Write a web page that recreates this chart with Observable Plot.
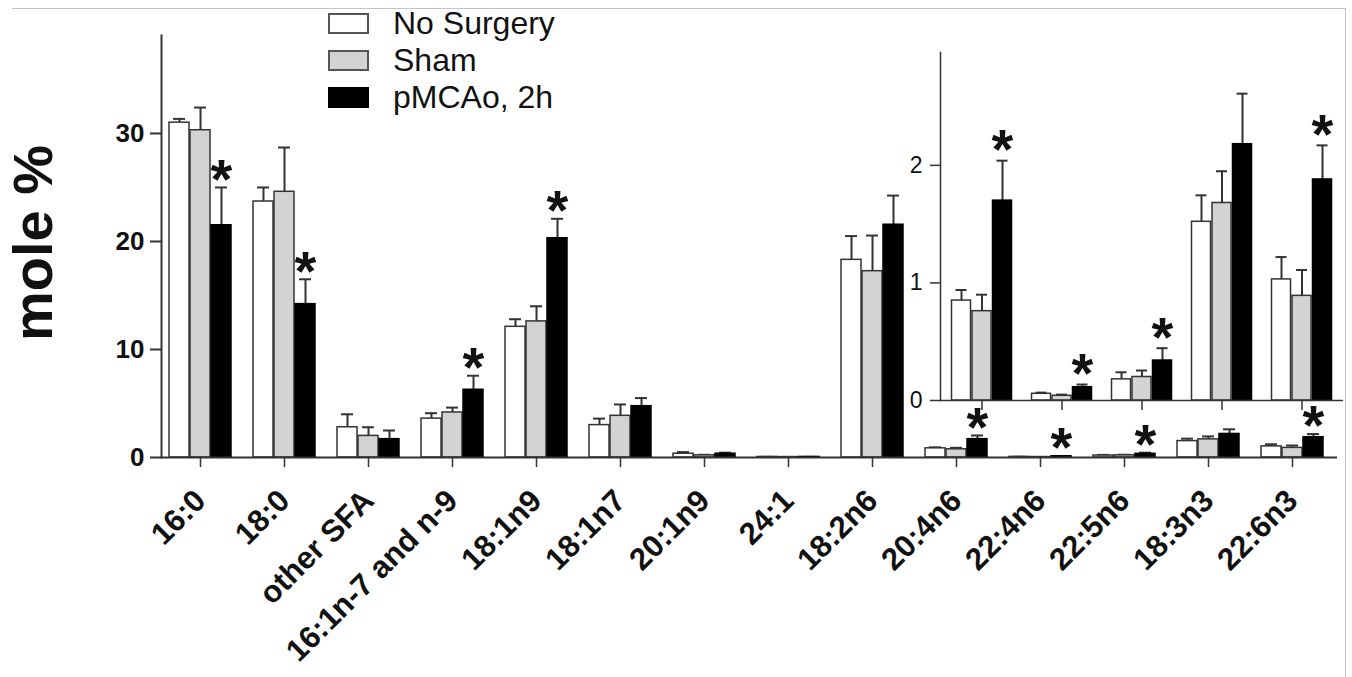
<!DOCTYPE html>
<html><head><meta charset="utf-8">
<script src="https://cdn.jsdelivr.net/npm/d3@7"></script>
<script src="https://cdn.jsdelivr.net/npm/@observablehq/plot@0.6"></script>
<style>
html,body{margin:0;padding:0;background:#fff;}
#wrap{position:relative;width:1352px;height:677px;overflow:hidden;font-family:"Liberation Sans",Arial,sans-serif;}
#wrap svg{position:absolute;left:0;top:0;}
.border{position:absolute;left:12px;top:8px;width:1333px;height:700px;border-top:1.5px solid #c4c4c4;border-right:1.5px solid #c4c4c4;}
#ylabel{position:absolute;left:32px;top:243px;transform:translate(-50%,-50%) rotate(-90deg);font-weight:bold;font-size:56px;white-space:nowrap;color:#111;}
#legend{position:absolute;left:328px;top:5px;}
.row{display:flex;align-items:center;height:37px;}
.sw{width:41px;height:21px;box-sizing:border-box;border:2px solid #555;}
.lt{margin-left:24px;font-size:32px;color:#111;white-space:nowrap;}
</style></head>
<body>
<div id="wrap">
  <div class="border"></div>
  <div id="ylabel">mole %</div>
  <div id="legend"></div>
</div>
<script>
// ---- data ----
const categories = ["16:0","18:0","other SFA","16:1n-7 and n-9","18:1n9","18:1n7","20:1n9","24:1","18:2n6","20:4n6","22:4n6","22:5n6","18:3n3","22:6n3"];
const insetCategories = ["20:4n6","22:4n6","22:5n6","18:3n3","22:6n3"];
const seriesNames = ["No Surgery","Sham","pMCAo, 2h"];
const noSurgery    = [31.0, 23.7, 2.8, 3.6, 12.1, 3.0, 0.35, 0.05, 18.3, 0.85, 0.057, 0.18, 1.52, 1.03];
const noSurgeryErr = [0.35, 1.3, 1.2, 0.5, 0.7, 0.6, 0.15, 0.01, 2.2, 0.09, 0.01, 0.06, 0.225, 0.19];
const sham         = [30.3, 24.6, 2.0, 4.17, 12.6, 3.86, 0.2, 0.04, 17.25, 0.76, 0.04, 0.2, 1.68, 0.89];
const shamErr      = [2.1, 4.1, 0.8, 0.45, 1.4, 1.05, 0.05, 0.01, 3.3, 0.14, 0.01, 0.055, 0.27, 0.22];
const pmcao        = [21.5, 14.2, 1.7, 6.27, 20.3, 4.75, 0.35, 0.05, 21.55, 1.70, 0.113, 0.34, 2.18, 1.88];
const pmcaoErr     = [3.5, 2.3, 0.8, 1.3, 1.8, 0.75, 0.1, 0.01, 2.7, 0.34, 0.023, 0.105, 0.43, 0.29];
const significant  = [true, true, false, true, true, false, false, false, false, true, true, true, false, true];
const mainTicks = [0, 10, 20, 30];
const insetTicks = [0, 1, 2];

// ---- styles ----
const fills = ["#ffffff", "#d3d3d3", "#000000"];
const edge = "#333";
const font = "Liberation Sans, Arial, sans-serif";

const groups = [
  {values: noSurgery, errors: noSurgeryErr},
  {values: sham, errors: shamErr},
  {values: pmcao, errors: pmcaoErr}
];

function rows(g, keep) {
  return categories.map((c, i) => ({cat: c, v: g.values[i], top: g.values[i] + g.errors[i], sig: significant[i]}))
    .filter(d => keep.includes(d.cat));
}

function barMarks(keep, offset, starDy, capInset) {
  const out = [];
  groups.forEach((g, gi) => {
    const data = rows(g, keep);
    const dx = (gi - 1) * offset;
    out.push(Plot.ruleX(data, {x: "cat", y1: "v", y2: "top", dx, stroke: edge, strokeWidth: 2}));
    out.push(Plot.tickY(data, {x: "cat", y: "top", dx, stroke: edge, strokeWidth: 2, insetLeft: capInset, insetRight: capInset}));
    out.push(Plot.barY(data, {x: "cat", y: "v", dx, fill: fills[gi], stroke: gi === 2 ? "#000" : edge, strokeWidth: 1.5}));
    if (gi === 2) {
      out.push(Plot.text(data.filter(d => d.sig), {x: "cat", y: "top", dx, dy: starDy, text: () => "*", fontSize: 56, fontWeight: "bold", fontFamily: font, fill: "#111"}));
    }
  });
  return out;
}

const mainPlot = Plot.plot({
  width: 1352, height: 677,
  marginLeft: 161, marginRight: 15, marginTop: 35, marginBottom: 220,
  style: {fontFamily: font, background: "transparent", color: "#111", overflow: "visible"},
  x: {domain: categories, range: [158, 1334], paddingInner: 0.762, paddingOuter: 0.381},
  y: {domain: [0, 39.07]},
  marks: [
    ...barMarks(categories, 21, -7.5, 4),
    Plot.frame({anchor: "left", stroke: edge, strokeWidth: 2}),
    Plot.ruleY([0], {stroke: edge, strokeWidth: 2}),
    Plot.axisY({ticks: mainTicks, tickSize: 11, tickPadding: 6, fontSize: 26, fontWeight: "bold", stroke: edge, strokeWidth: 2, label: null}),
    Plot.axisX({tickRotate: -45, tickSize: 10, tickPadding: 28, fontSize: 31, fontWeight: "bold", stroke: edge, strokeWidth: 1.5, label: null})
  ]
});

const insetPlot = Plot.plot({
  width: 1352, height: 677,
  marginLeft: 940, marginRight: 9, marginTop: 52, marginBottom: 277,
  style: {fontFamily: font, background: "transparent", color: "#111", overflow: "visible"},
  x: {domain: insetCategories, range: [940, 1343], paddingInner: 0.764, paddingOuter: 0.382},
  y: {domain: [0, 2.96]},
  marks: [
    ...barMarks(insetCategories, 20.5, -10.5, 4),
    Plot.frame({anchor: "left", stroke: edge, strokeWidth: 1.5}),
    Plot.ruleY([0], {stroke: edge, strokeWidth: 1.5}),
    Plot.axisY({ticks: insetTicks, tickFormat: d => String(d), tickSize: 10, tickPadding: 8, fontSize: 23, stroke: edge, strokeWidth: 1.5, label: null}),
    Plot.axisX({tickSize: 10, tickFormat: () => "", stroke: edge, strokeWidth: 1.5, label: null})
  ]
});

const wrap = document.getElementById("wrap");
wrap.appendChild(mainPlot);
wrap.appendChild(insetPlot);

const legend = document.getElementById("legend");
seriesNames.forEach((name, i) => {
  const row = document.createElement("div");
  row.className = "row";
  const sw = document.createElement("div");
  sw.className = "sw";
  sw.style.background = fills[i];
  if (i === 2) sw.style.borderColor = "#000";
  const lt = document.createElement("div");
  lt.className = "lt";
  lt.textContent = name;
  row.appendChild(sw); row.appendChild(lt);
  legend.appendChild(row);
});
wrap.appendChild(legend);
</script>
</body></html>
